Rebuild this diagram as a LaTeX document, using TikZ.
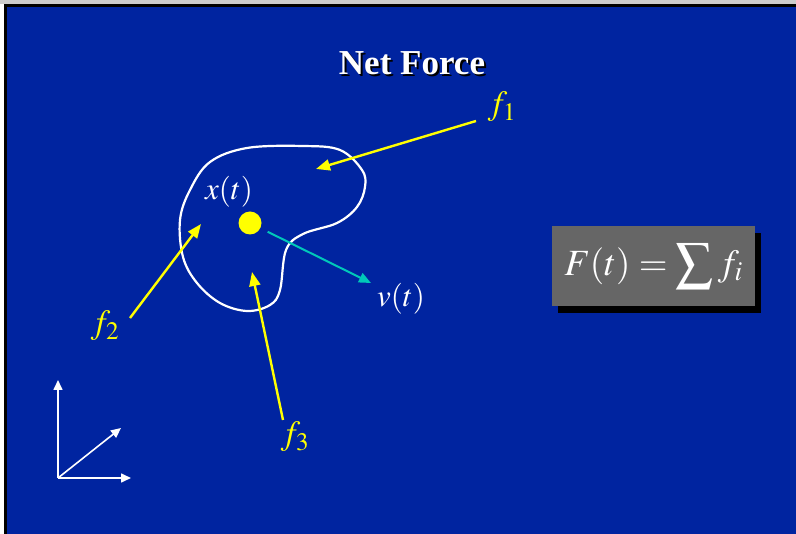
\documentclass[tikz,border=0pt]{standalone}
\usepackage{mathptmx}
\usepackage[no-math]{fontspec}
\setmainfont{Liberation Serif}
\usetikzlibrary{arrows.meta,shadows}
\definecolor{slideblue}{RGB}{0,36,160}
\definecolor{boxgray}{RGB}{102,102,102}
\definecolor{velcyan}{RGB}{0,200,185}
\definecolor{forceyellow}{RGB}{255,255,0}

\begin{document}
\begin{tikzpicture}[x=1pt,y=-1pt,
    force/.style={draw=forceyellow, line width=2.4pt, -{Triangle[length=14pt,width=11pt]}},
    flabel/.style={text=forceyellow, inner sep=0pt, font=\fontsize{34}{38}\selectfont},
    wlabel/.style={text=white, inner sep=0pt, font=\fontsize{31}{35}\selectfont},
    axis/.style={draw=white, line width=1.6pt, -{Triangle[length=10pt,width=9pt]}}]
  \useasboundingbox (0,0) rectangle (796,534);
  \clip (0,0) rectangle (796,534);
  % slide frame
  \fill[white] (0,0) rectangle (796,534);
  \fill[gray!40] (0,0) rectangle (796,4);
  \draw[fill=slideblue, line width=3pt] (5,6) rectangle (805,545);
  % title
  \node[font=\fontsize{35}{39}\selectfont\bfseries, text=black] (titleshadow) at (414,65) {Net Force};
  \node[font=\fontsize{35}{39}\selectfont\bfseries, text=white] (title) at (412,63) {Net Force};
  % body
  \draw[white, line width=2.2pt] plot[smooth cycle, tension=0.6] coordinates {(247,148) (303,146) (340,150)
    (362,170) (365,187) (357,207) (337,223) (303,234) (286,250) (280,290) (270,305) (247,311)
    (220,303) (197,283) (183,257) (180,220) (190,190) (210,162)};
  \node[circle, fill=forceyellow, minimum size=23pt, inner sep=0pt] (xdot) at (250,223) {};
  \node[wlabel] (xlab) at (229,192) {$x(t)$};
  \node[wlabel] (vlab) at (401,299) {$v(t)$};
  \coordinate (vtip) at (371,283);
  \draw[velcyan, line width=2pt, -{Triangle[length=12pt,width=10pt]}, shorten <=8pt] (xdot) -- (vtip);
  % forces
  \node[flabel] (f1) at (502,107) {$f_1$};
  \node[flabel] (f2) at (105,326) {$f_2$};
  \node[flabel] (f3) at (295,437) {$f_3$};
  \coordinate (f1tail) at (476,121);
  \coordinate (f1tip) at (316,169);
  \coordinate (f2tail) at (130,318);
  \coordinate (f2tip) at (201,224);
  \coordinate (f3tail) at (283,420);
  \coordinate (f3tip) at (252,272);
  \draw[force] (f1tail) -- (f1tip);
  \draw[force] (f2tail) -- (f2tip);
  \draw[force] (f3tail) -- (f3tip);
  % net force
  \node[fill=boxgray, minimum width=203pt, minimum height=80pt, text=white,
    drop shadow={shadow xshift=6pt, shadow yshift=-7pt, fill=black, opacity=1},
    font=\fontsize{37}{41}\selectfont] (netf) at (653.5,266) {$\displaystyle F(t)=\sum f_i$};
  % axes
  \coordinate (origin) at (58,478);
  \coordinate (ytip) at (58,380);
  \coordinate (xtip) at (131,478);
  \coordinate (ztip) at (121,428);
  \draw[axis] (origin) -- (ytip);
  \draw[axis] (origin) -- (xtip);
  \draw[axis] (origin) -- (ztip);
\end{tikzpicture}
\end{document}
